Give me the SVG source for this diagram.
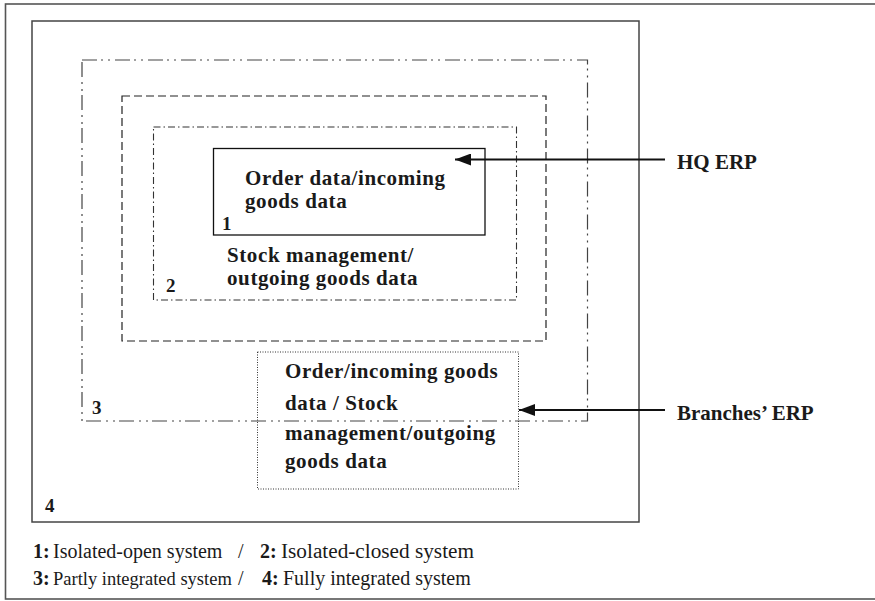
<svg xmlns="http://www.w3.org/2000/svg" width="875" height="601" viewBox="0 0 875 601">
<style>
  .b { font-family: "Liberation Serif", "Times New Roman", serif; font-weight: bold; font-size: 21px; fill: #1a1a1a; letter-spacing: 0.6px; }
  .e { font-family: "Liberation Serif", "Times New Roman", serif; font-weight: bold; font-size: 21px; fill: #1a1a1a; }
  .n { font-family: "Liberation Serif", "Times New Roman", serif; font-weight: bold; font-size: 19px; fill: #1a1a1a; }
  .l { font-family: "Liberation Serif", "Times New Roman", serif; font-size: 20px; fill: #1a1a1a; }
  .lb { font-weight: bold; }
  .box { fill: none; }
  .arrow { stroke: #111; stroke-width: 2; fill: none; }
</style>
<defs>
  <marker id="ah" viewBox="0 0 16 12" refX="16" refY="6" markerWidth="16" markerHeight="12" markerUnits="userSpaceOnUse" orient="auto">
    <path d="M0,0 L16,6 L0,12 Z" fill="#111"/>
  </marker>
</defs>
<rect x="5.5" y="4" width="875" height="595" fill="#fff" stroke="#555" stroke-width="1.6"/>

<g id="system4">
  <rect class="box" x="32" y="21" width="607" height="501" stroke="#444" stroke-width="1.5"/>
  <text class="n" x="45" y="512">4</text>
</g>
<g id="system3">
  <rect class="box" x="82" y="60" width="505.5" height="361" stroke="#444" stroke-width="1.2" stroke-dasharray="15 4 2 5 2 5"/>
  <text class="n" x="92" y="414">3</text>
</g>
<g id="system2">
  <rect class="box" x="122" y="96" width="424" height="245" stroke="#222" stroke-width="1.2" stroke-dasharray="8 4"/>
</g>
<g id="system2inner">
  <rect class="box" x="153.5" y="127" width="363" height="173" stroke="#333" stroke-width="1.1" stroke-dasharray="7 3 1.5 3"/>
  <text class="b" x="227" y="262">Stock management/</text>
  <text class="b" x="227" y="285">outgoing goods data</text>
  <text class="n" x="166" y="292">2</text>
</g>
<g id="system1">
  <rect class="box" x="213.5" y="148.5" width="271.5" height="86.5" stroke="#111" stroke-width="1.3"/>
  <text class="b" x="245" y="185">Order data/incoming</text>
  <text class="b" x="245" y="208">goods data</text>
  <text class="n" x="222" y="230">1</text>
</g>
<g id="branches">
  <rect class="box" x="257.5" y="352" width="261" height="137" stroke="#333" stroke-width="1" stroke-dasharray="1 1.5"/>
  <text class="b" x="285" y="378">Order/incoming goods</text>
  <text class="b" x="285" y="410">data / Stock</text>
  <text class="b" x="285" y="440">management/outgoing</text>
  <text class="b" x="285" y="468">goods data</text>
</g>
<g id="hq-erp">
  <text class="e" x="677" y="169">HQ ERP</text>
</g>
<g id="branches-erp">
  <text class="e" x="677" y="420">Branches’ ERP</text>
</g>
<g id="connectors">
  <line class="arrow" x1="665" y1="159.5" x2="455" y2="159.5" marker-end="url(#ah)"/>
  <line class="arrow" x1="665" y1="410" x2="519" y2="410" marker-end="url(#ah)"/>
</g>
<g id="legend">
  <text class="l lb" x="33" y="558">1:</text>
  <text class="l" x="53" y="558">Isolated-open system</text>
  <text class="l" x="238" y="558">/</text>
  <text class="l lb" x="260" y="558">2:</text>
  <text class="l" x="281" y="558" textLength="193" lengthAdjust="spacingAndGlyphs">Isolated-closed system</text>
  <text class="l lb" x="33" y="585">3:</text>
  <text class="l" x="53" y="585" style="font-size:18.5px">Partly integrated system</text>
  <text class="l" x="238" y="585">/</text>
  <text class="l lb" x="262" y="585">4:</text>
  <text class="l" x="283" y="585">Fully integrated system</text>
</g>
</svg>
